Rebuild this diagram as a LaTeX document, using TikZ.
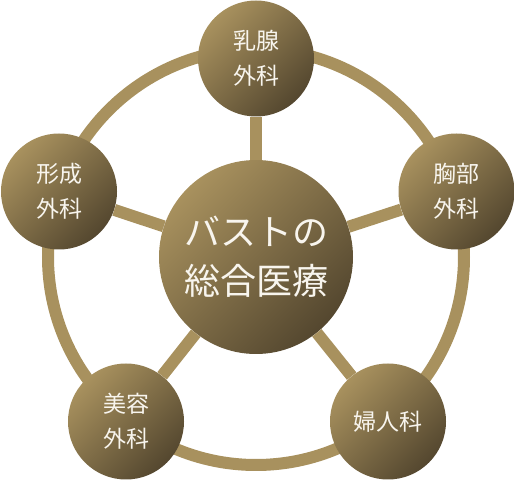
\documentclass[tikz,border=0pt]{standalone}
\usepackage{fontspec}
\newfontfamily\jpfont{Noto Sans CJK JP}
\definecolor{goldlight}{HTML}{A8915E}
\definecolor{golddark}{HTML}{54472F}
\definecolor{textwhite}{HTML}{F8F5EE}

\begin{document}
\begin{tikzpicture}[x=1pt,y=-1pt]
    \tikzstyle{every node}=[text=textwhite, align=center]
    \tikzstyle{dept}=[circle, minimum size=116pt, inner sep=0pt, top color=goldlight, bottom color=golddark, shading angle=45, font=\jpfont\fontsize{23}{35}\selectfont]
    \tikzstyle{hub}=[dept, minimum size=194pt, font=\jpfont\fontsize{36}{49}\selectfont]
    \tikzstyle{link}=[draw=goldlight, line width=12pt]
    \useasboundingbox (0,0) rectangle (515,481);

    % outer ring
    \coordinate (mid) at (256,257);
    \draw[link] (mid) circle[radius=208pt];

    \node[hub] (Hub) at (mid) {バストの\\総合医療};
    \node[dept] (Nyusen) at (256,58.5) {乳腺\\外科};
    \node[dept] (Kyobu) at (456.5,191.5) {胸部\\外科};
    \node[dept] (Fujin) at (388,421.5) {婦人科};
    \node[dept] (Biyo) at (126,421.5) {美容\\外科};
    \node[dept] (Keisei) at (59,191.5) {形成\\外科};

    % spokes
    \foreach \d in {Nyusen, Kyobu, Fujin, Biyo, Keisei}
        \draw[link] (Hub) -- (\d);
\end{tikzpicture}
\end{document}
